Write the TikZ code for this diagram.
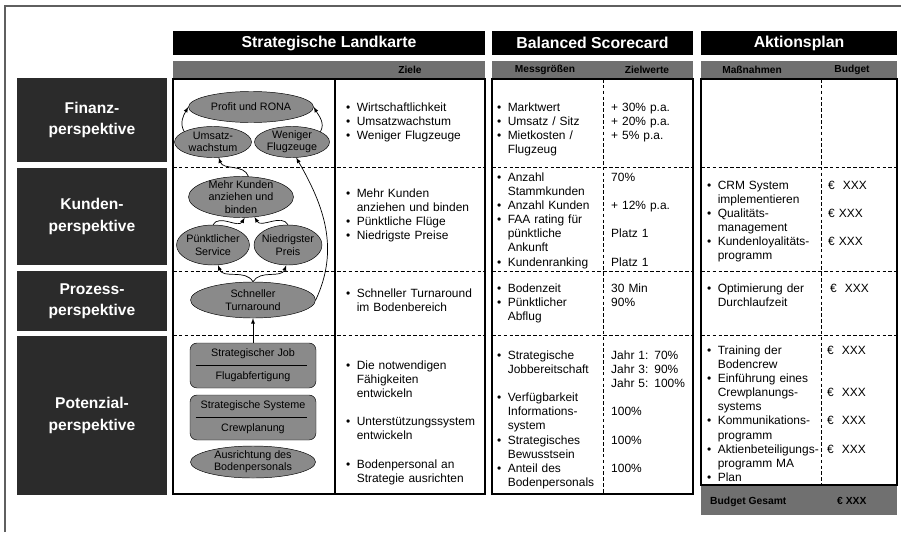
\documentclass[tikz,border=0pt]{standalone}
\usepackage{fontspec}
\setmainfont{Liberation Sans}
\usetikzlibrary{shapes.geometric, arrows}

\definecolor{darkbox}{RGB}{43,43,43}
\definecolor{headgray}{RGB}{112,112,112}
\definecolor{goalgray}{RGB}{138,138,138}
\definecolor{framegray}{RGB}{95,95,95}

\newcommand{\bodyfont}{\fontsize{10.2}{12.1}\selectfont}
\newcommand{\mapfont}{\fontsize{9.2}{10.5}\selectfont}
\newcommand{\itm}[1]{\hangindent=9pt\hangafter=1\noindent\makebox[9pt][l]{\textbullet}#1\par}
\newcommand{\leer}{\vspace{\baselineskip}}

\begin{document}
\begin{tikzpicture}[
    x = 0.03cm, y = -0.03cm,
    hdr/.style = {fill=black, text=white, font=\fontsize{13.5}{16}\selectfont\bfseries, minimum height=0.72cm, inner sep=0},
    subhead/.style = {font=\fontsize{8.7}{10}\selectfont\bfseries, inner sep=0},
    persp/.style = {fill=darkbox, text=white, font=\fontsize{13.3}{18}\selectfont\bfseries, align=center, minimum width=4.5cm, inner sep=0},
    goal/.style = {ellipse, draw, fill=goalgray, font=\mapfont, align=center, inner xsep=-4pt, inner ysep=-8pt},
    jobbox/.style = {rectangle, rounded corners=6pt, draw, fill=goalgray, font=\mapfont, align=center, minimum width=3.78cm, minimum height=1.35cm, inner sep=0},
    txt/.style = {anchor=base west, inner sep=0, font=\bodyfont},
    bandtxt/.style = {anchor=base west, inner sep=0, font=\fontsize{8.8}{10}\selectfont\bfseries},
    frame/.style = {line width=1.1pt},
    sep/.style = {dash pattern=on 3pt off 2pt, line width=0.8pt},
    arrow/.style = {->, >=latex, line width=0.6pt}
]
\useasboundingbox (0,0) rectangle (901,532);
\draw[framegray, line width=1.3pt] (5,532) -- (5,6) -- (901,6);

% Headers
\node[hdr, minimum width=9.36cm] (karte) at (329,43) {Strategische Landkarte};
\node[hdr, minimum width=6.03cm] (score) at (592.5,43) {Balanced Scorecard};
\node[hdr, minimum width=5.88cm] (aktion) at (799,43) {Aktionsplan};

\fill[headgray] (173,61) rectangle (485,78);
\fill[headgray] (492,61) rectangle (693,78);
\fill[headgray] (701,61) rectangle (897,78);
\node[subhead] (ziele) at (410,69.5) {Ziele};
\node[subhead] (mess) at (545,69.5) {Messgrößen};
\node[subhead] (zielw) at (647,69.5) {Zielwerte};
\node[subhead] (massn) at (752,69.5) {Maßnahmen};
\node[subhead] (budget) at (852,69.5) {Budget};

% Perspectives
\node[persp, minimum height=2.52cm] (finanz) at (92,120) {Finanz-\\perspektive};
\node[persp, minimum height=2.91cm] (kundenp) at (92,216.5) {Kunden-\\perspektive};
\node[persp, minimum height=1.8cm] (prozess) at (92,301) {Prozess-\\perspektive};
\node[persp, minimum height=4.77cm] (potenzial) at (92,415.5) {Potenzial-\\perspektive};

% Table bodies
\foreach \y in {167,271,335} {
  \draw[sep] (173,\y) -- (485,\y);
  \draw[sep] (492,\y) -- (693,\y);
  \draw[sep] (701,\y) -- (897,\y);
}
\draw[sep] (603,79) -- (603,494);
\draw[sep] (821,79) -- (821,485);
\draw[frame] (335,79) -- (335,494);
\draw[frame] (173,79) rectangle (485,494);
\draw[frame] (492,79) rectangle (693,494);
\fill[headgray] (701,485) rectangle (897,515);
\draw[frame] (701,79) rectangle (897,485);

% Strategy map
\node[goal, minimum width=3.75cm, minimum height=0.93cm] (profit) at (251,107) {Profit und RONA};
\node[goal, minimum width=2.31cm, minimum height=0.93cm] (umsatz) at (213,142) {Umsatz-\\wachstum};
\node[goal, minimum width=2.25cm, minimum height=0.93cm] (flug) at (292,142) {Weniger\\Flugzeuge};
\node[goal, minimum width=3.15cm, minimum height=1.23cm] (kunden) at (241,197) {Mehr Kunden\\anziehen und\\binden};
\node[goal, minimum width=2.19cm, minimum height=1.2cm] (service) at (213,245) {Pünktlicher\\Service};
\node[goal, minimum width=2.04cm, minimum height=1.2cm] (preis) at (288,245) {Niedrigster\\Preis};
\node[goal, minimum width=3.75cm, minimum height=1.08cm] (turn) at (253,300) {Schneller\\Turnaround};
\node[jobbox] (job) at (253,365.5) {Strategischer Job\\[9pt]Flugabfertigung};
\node[jobbox] (systeme) at (253,417.5) {Strategische Systeme\\[9pt]Crewplanung};
\node[goal, minimum width=3.75cm, minimum height=0.96cm] (boden) at (253,462) {Ausrichtung des\\Bodenpersonals};
\draw ([xshift=5pt]job.west) -- ([xshift=-8pt]job.east);
\draw ([xshift=5pt]systeme.west) -- ([xshift=-8pt]systeme.east);

% Draw arrows
\draw[arrow] (umsatz.160) to[out=120, in=-120] (profit.west);
\draw[arrow] (flug.20) to[out=60, in=-60] (profit.east);
\draw[arrow] (kunden.70) to[out=110, in=-70] (umsatz.-70);
\draw[arrow] (turn.east) to[out=65, in=-60] (flug.-75);
\draw[arrow] (service.north) to[out=60, in=-120] (kunden.-80);
\draw[arrow] (preis.north) to[out=120, in=-60] (kunden.-56);
\draw[arrow] (turn.north) to[out=120, in=-70] (service.-76);
\draw[arrow] (turn.north) to[out=60, in=-110] (preis.-95);
\draw[arrow] (job.north) -- (turn.south);

% Ziele
\node[txt, text width=4.2cm] (zfin) at (346,111) {\itm{Wirtschaftlichkeit}\itm{Umsatzwachstum}\itm{Weniger Flugzeuge}};
\node[txt, text width=4.2cm] (zkun) at (346,197) {\itm{Mehr Kunden\newline anziehen und binden}\itm{Pünktliche Flüge}\itm{Niedrigste Preise}};
\node[txt, text width=4.2cm] (zpro) at (346,297) {\itm{Schneller Turnaround\newline im Bodenbereich}};
\node[txt, text width=4.2cm] (zpot) at (346,369) {\itm{Die notwendigen\newline Fähigkeiten\newline entwickeln}\leer\itm{Unterstützungssystem\newline entwickeln}\leer\itm{Bodenpersonal an\newline Strategie ausrichten}};

% Messgroessen and Zielwerte
\node[txt, text width=3.3cm] (mfin) at (497,111) {\itm{Marktwert}\itm{Umsatz / Sitz}\itm{Mietkosten /\newline Flugzeug}};
\node[txt, text width=3.3cm] (mkun) at (497,181) {\itm{Anzahl\newline Stammkunden}\itm{Anzahl Kunden}\itm{FAA rating für\newline pünktliche\newline Ankunft}\itm{Kundenranking}};
\node[txt, text width=3.3cm] (mpro) at (497,292) {\itm{Bodenzeit}\itm{Pünktlicher\newline Abflug}};
\node[txt, text width=3.3cm] (mpot) at (497,359) {\itm{Strategische\newline Jobbereitschaft}\leer\itm{Verfügbarkeit\newline Informations-\newline system}\itm{Strategisches\newline Bewusstsein}\itm{Anteil des\newline Bodenpersonals}};
\node[txt, text width=2.5cm] (wfin) at (611,111) {+ 30\% p.a.\\+ 20\% p.a.\\+ 5\% p.a.};
\node[txt, text width=2.5cm] (wkun) at (611,181) {70\%\\[\baselineskip]+ 12\% p.a.\\[\baselineskip]Platz 1\\[\baselineskip]Platz 1};
\node[txt, text width=2.5cm] (wpro) at (611,292) {30 Min\\90\%};
\node[txt, text width=2.5cm] (wpot) at (611,359) {Jahr 1: 70\%\\Jahr 3: 90\%\\Jahr 5: 100\%\\[\baselineskip]100\%\\[\baselineskip]100\%\\[\baselineskip]100\%};

% Massnahmen and Budget
\node[txt, text width=3.9cm] (akun) at (707,189) {\itm{CRM System\newline implementieren}\itm{Qualitäts-\newline management}\itm{Kundenloyalitäts-\newline programm}};
\node[txt, text width=3.9cm] (apro) at (707,292) {\itm{Optimierung der\newline Durchlaufzeit}};
\node[txt, text width=3.9cm] (apot) at (707,354) {\itm{Training der\newline Bodencrew}\itm{Einführung eines\newline Crewplanungs-\newline systems}\itm{Kommunikations-\newline programm}\itm{Aktienbeteiligungs-\newline programm MA}\itm{Plan}};
\node[txt, text width=2cm] (bkun) at (828,189) {€\ \ XXX\\[\baselineskip]€ XXX\\[\baselineskip]€ XXX};
\node[txt, text width=2cm] (bpro) at (830,292) {€\ \ XXX};
\node[txt, text width=2cm] (bpot) at (827,354) {€\ \ XXX\\[2\baselineskip]€\ \ XXX\\[\baselineskip]€\ \ XXX\\[\baselineskip]€\ \ XXX};

\node[bandtxt] (gesamt) at (710,504) {Budget Gesamt};
\node[bandtxt] (gsumme) at (837,504) {€ XXX};

\end{tikzpicture}
\end{document}
